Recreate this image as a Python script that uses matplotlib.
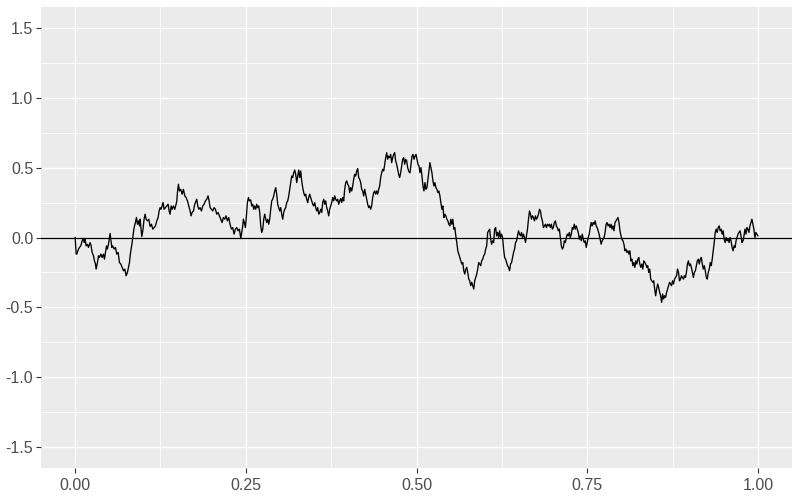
import matplotlib.pyplot as plt
import numpy as np

# brownian path, split in four stretches
# stretch A: irregular sample times
t_a = [0.0000, 0.0015, 0.0024, 0.0049, 0.0063, 0.0083, 0.0102, 0.0122, 0.0132, 0.0146,
       0.0161, 0.0181, 0.0195, 0.0220, 0.0234, 0.0249, 0.0268, 0.0283, 0.0298, 0.0307,
       0.0327, 0.0342, 0.0356, 0.0376, 0.0395, 0.0415, 0.0429, 0.0444, 0.0459, 0.0473,
       0.0488, 0.0503, 0.0512, 0.0522, 0.0537, 0.0551, 0.0571, 0.0591, 0.0610, 0.0630,
       0.0649, 0.0669, 0.0688, 0.0708, 0.0727, 0.0747, 0.0766, 0.0781, 0.0796, 0.0805,
       0.0820, 0.0835, 0.0844, 0.0854, 0.0864, 0.0883, 0.0898, 0.0913, 0.0927, 0.0942,
       0.0952, 0.0966, 0.0976, 0.0991, 0.1010, 0.1025, 0.1040, 0.1059, 0.1079, 0.1098,
       0.1118, 0.1137, 0.1157, 0.1176, 0.1196, 0.1215, 0.1230, 0.1245, 0.1259, 0.1274,
       0.1288, 0.1303, 0.1323, 0.1342, 0.1362, 0.1376, 0.1391, 0.1406, 0.1420, 0.1440,
       0.1459, 0.1479, 0.1489, 0.1498, 0.1513, 0.1528, 0.1547, 0.1567, 0.1586, 0.1606,
       0.1625, 0.1645, 0.1664, 0.1684, 0.1698, 0.1713, 0.1733, 0.1752, 0.1772, 0.1781,
       0.1796, 0.1811, 0.1830, 0.1850, 0.1869, 0.1889, 0.1908, 0.1928, 0.1947, 0.1962,
       0.1977, 0.1996, 0.2016, 0.2035, 0.2055, 0.2074, 0.2094, 0.2113, 0.2133, 0.2152,
       0.2172, 0.2191, 0.2211, 0.2230, 0.2250, 0.2269, 0.2289, 0.2308, 0.2328, 0.2347,
       0.2367, 0.2386, 0.2406,
       0.2426, 0.2440, 0.2455, 0.2464, 0.2479, 0.2494, 0.2509, 0.2523, 0.2538, 0.2553]
y_a = [0.000, -0.119, -0.119, -0.083, -0.071, -0.060, -0.024, -0.007, -0.036, -0.012,
       -0.060, -0.048, -0.071, -0.036, -0.060, -0.107, -0.131, -0.167, -0.190, -0.226,
       -0.179, -0.131, -0.143, -0.119, -0.143, -0.119, -0.155, -0.107, -0.060, -0.083,
       -0.048, 0.000, 0.029, -0.012, -0.071, -0.060, -0.083, -0.071, -0.119, -0.107,
       -0.179, -0.190, -0.214, -0.238, -0.226, -0.274, -0.250, -0.214, -0.179, -0.131,
       -0.083, -0.036, 0.000, 0.036, 0.071, 0.107, 0.143, 0.095, 0.119, 0.083,
       0.131, 0.060, 0.007, 0.048, 0.131, 0.167, 0.131, 0.119, 0.131, 0.079,
       0.095, 0.060, 0.071, 0.083, 0.119, 0.143, 0.190, 0.214, 0.202, 0.226,
       0.250, 0.202, 0.214, 0.226, 0.238, 0.190, 0.167, 0.226, 0.202, 0.226,
       0.202, 0.238, 0.262, 0.321, 0.381, 0.333, 0.345, 0.310, 0.345, 0.298,
       0.286, 0.262, 0.226, 0.190, 0.155, 0.179, 0.190, 0.238, 0.262, 0.274,
       0.226, 0.202, 0.214, 0.190, 0.226, 0.238, 0.262, 0.274, 0.298, 0.262,
       0.214, 0.202, 0.190, 0.214, 0.202, 0.167, 0.179, 0.155, 0.131, 0.107,
       0.143, 0.131, 0.155, 0.119, 0.143, 0.095, 0.060, 0.071, 0.024, 0.060,
       0.071, 0.048, 0.060,
       -0.007, 0.036, 0.083, 0.131, 0.107, 0.071, 0.155, 0.250, 0.286, 0.262]

# stretches B, C, D: read at even steps between the given start/end times
span_b = (0.2572, 0.4900)
y_b = [0.269, 0.226, 0.238, 0.202, 0.226, 0.202, 0.238, 0.214, 0.226, 0.179,
       0.083, 0.036, 0.060, 0.131, 0.167, 0.131, 0.107, 0.131, 0.095, 0.131,
       0.202, 0.262, 0.274, 0.298, 0.333, 0.357, 0.310, 0.238, 0.214, 0.190,
       0.214, 0.167, 0.131, 0.179, 0.202, 0.214, 0.250, 0.262, 0.298, 0.345,
       0.393, 0.440, 0.429, 0.464, 0.483, 0.452, 0.393, 0.440, 0.483, 0.429,
       0.476, 0.405, 0.357, 0.321, 0.298, 0.310, 0.274, 0.250, 0.286, 0.310,
       0.286, 0.262, 0.238, 0.226, 0.250, 0.214, 0.190, 0.214, 0.167, 0.179,
       0.202, 0.179, 0.250, 0.274, 0.238, 0.262, 0.214, 0.190, 0.155, 0.202,
       0.226, 0.250, 0.286, 0.262, 0.298, 0.274, 0.262, 0.274, 0.238, 0.262,
       0.279, 0.250, 0.286, 0.262, 0.345, 0.393, 0.405, 0.381, 0.369, 0.321,
       0.357, 0.333, 0.369, 0.417, 0.452, 0.440, 0.476, 0.493, 0.429, 0.417,
       0.393, 0.345, 0.333, 0.298, 0.345, 0.310, 0.274, 0.238, 0.214, 0.226,
       0.202, 0.226, 0.286, 0.321, 0.333, 0.310, 0.333, 0.310, 0.345, 0.369,
       0.429, 0.464, 0.488, 0.476, 0.524, 0.571, 0.607, 0.560, 0.583, 0.571,
       0.595, 0.536, 0.571, 0.595, 0.607, 0.548, 0.524, 0.488, 0.452, 0.429,
       0.464, 0.512, 0.560, 0.571, 0.524, 0.560, 0.548, 0.500, 0.476, 0.464]

span_c = (0.4905, 0.7384)
y_c = [0.464, 0.524, 0.583, 0.595, 0.560, 0.583, 0.595, 0.560, 0.524, 0.512,
       0.464, 0.500, 0.440, 0.369, 0.333, 0.393, 0.345, 0.357, 0.417, 0.476,
       0.536, 0.500, 0.464, 0.405, 0.369, 0.393, 0.357, 0.345, 0.321, 0.333, 0.298,
       0.250,
       0.202, 0.226, 0.143, 0.167, 0.155, 0.131, 0.119, 0.095, 0.083, 0.131,
       0.095, 0.131, 0.060, 0.071, 0.012, -0.036, -0.095, -0.119, -0.143, -0.167,
       -0.190, -0.179, -0.238, -0.262, -0.226, -0.214, -0.250, -0.298, -0.310, -0.345,
       -0.321, -0.345, -0.369, -0.310, -0.286, -0.262, -0.226, -0.179, -0.190, -0.202,
       -0.167, -0.155, -0.131, -0.119, -0.083, -0.060, 0.036, 0.048, 0.060, -0.012,
       -0.048, -0.024, -0.036, 0.060, 0.071, 0.012, 0.036, 0.000, 0.048, 0.000,
       0.024, 0.000, -0.083, -0.143, -0.155, -0.179, -0.202, -0.214, -0.238, -0.190,
       -0.179, -0.143, -0.107, -0.083, -0.036, -0.024, 0.012, 0.048, 0.024, 0.012,
       0.036, 0.000, 0.024, 0.000, -0.036, 0.012, 0.060, 0.131, 0.190, 0.167,
       0.131, 0.155, 0.143, 0.119, 0.155, 0.131, 0.143, 0.167, 0.202, 0.190,
       0.143, 0.119, 0.071, 0.083, 0.095, 0.071, 0.095, 0.083, 0.095, 0.071,
       0.095, 0.060, 0.071, 0.107, 0.119, 0.083, 0.071, 0.048, 0.060, 0.000,
       -0.060, -0.083, -0.071, -0.024, -0.036, 0.000, 0.024, 0.012, 0.036, 0.000,
       0.024, 0.071, 0.060, 0.095, 0.060, 0.083, 0.060, 0.036, -0.012]

span_d = (0.7399, 1.0)
y_d = [0.012, -0.024, 0.024, -0.012, -0.036, -0.024, -0.071, -0.036, 0.000, 0.024,
       0.071, 0.107, 0.083, 0.107, 0.095, 0.119, 0.083, 0.071, 0.048, 0.024,
       -0.012, -0.048, -0.024, -0.012, 0.000, 0.036, 0.095, 0.107, 0.083, 0.095,
       0.071, 0.095, 0.060, 0.083, 0.048, 0.107, 0.119, 0.131, 0.143, 0.107,
       0.048, 0.012, -0.012, -0.024, -0.048, -0.095, -0.083, -0.107, -0.095, -0.119,
       -0.095, -0.167, -0.155, -0.202, -0.179, -0.214, -0.167, -0.190, -0.155, -0.143,
       -0.190, -0.214, -0.190, -0.226, -0.167, -0.179, -0.190, -0.214, -0.202, -0.250,
       -0.226, -0.298, -0.310, -0.321, -0.310, -0.369, -0.417, -0.369, -0.333, -0.357,
       -0.393, -0.417, -0.464, -0.405, -0.440, -0.417, -0.429, -0.393, -0.369, -0.345,
       -0.321, -0.333, -0.345, -0.310, -0.333, -0.298, -0.286, -0.274, -0.226, -0.250,
       -0.310, -0.298, -0.274, -0.286, -0.298, -0.274, -0.286, -0.250, -0.190, -0.167,
       -0.202, -0.190, -0.214, -0.250, -0.286, -0.250, -0.238, -0.202, -0.167, -0.155,
       -0.190, -0.155, -0.143, -0.190, -0.226, -0.202, -0.238, -0.286, -0.298, -0.250,
       -0.226, -0.179, -0.202, -0.155, -0.095, -0.036, 0.036, 0.060, 0.036, 0.071,
       0.083, 0.048, 0.060, 0.024, 0.048, -0.012, -0.036, 0.000, -0.024, -0.012,
       -0.036, 0.000, -0.024, -0.071, -0.095, -0.060, -0.071, -0.024, 0.000, 0.024,
       0.036, 0.048, 0.012, -0.036, -0.024, 0.012, 0.060, 0.024, 0.071, 0.060,
       0.036, 0.083, 0.107, 0.131, 0.095, 0.060, 0.000, 0.036, 0.024,
       0.012]

x_ticks = [0.00, 0.25, 0.50, 0.75, 1.00]
x_labels = ["0.00", "0.25", "0.50", "0.75", "1.00"]
y_ticks = [-1.5, -1.0, -0.5, 0.0, 0.5, 1.0, 1.5]
y_labels = ["-1.5", "-1.0", "-0.5", "0.0", "0.5", "1.0", "1.5"]

t = list(t_a)
y = list(y_a)
for span, ys in [(span_b, y_b), (span_c, y_c), (span_d, y_d)]:
    t += list(np.linspace(span[0], span[1], len(ys)))
    y += ys

plt.rcParams['font.family'] = ['Liberation Sans', 'DejaVu Sans']

fig = plt.figure(figsize=(8, 5), dpi=100)
ax = fig.add_axes([41 / 800, 32 / 500, 751 / 800, 461 / 500])
ax.set_facecolor('#EBEBEB')
for s in ax.spines.values():
    s.set_visible(False)

ax.set_xlim(-0.05, 1.05)
ax.set_ylim(-1.65, 1.65)
ax.set_xticks(x_ticks)
ax.set_xticklabels(x_labels)
ax.set_yticks(y_ticks)
ax.set_yticklabels(y_labels)
ax.set_xticks([0.125, 0.375, 0.625, 0.875], minor=True)
ax.set_yticks([-1.25, -0.75, -0.25, 0.25, 0.75, 1.25], minor=True)
ax.tick_params(which='major', length=3.5, width=0.8, color='#333333',
               labelcolor='#4D4D4D', labelsize=11.5, pad=2)
ax.tick_params(axis='x', which='major', pad=3.5)
ax.tick_params(which='minor', length=0)
ax.grid(which='major', color='white', linewidth=1.0)
ax.grid(which='minor', color='white', linewidth=0.55)
ax.set_axisbelow(True)

ax.axhline(0, color='black', linewidth=0.9)
ax.plot(t, y, color='black', linewidth=0.95)

fig.savefig('out.png', dpi=100)
